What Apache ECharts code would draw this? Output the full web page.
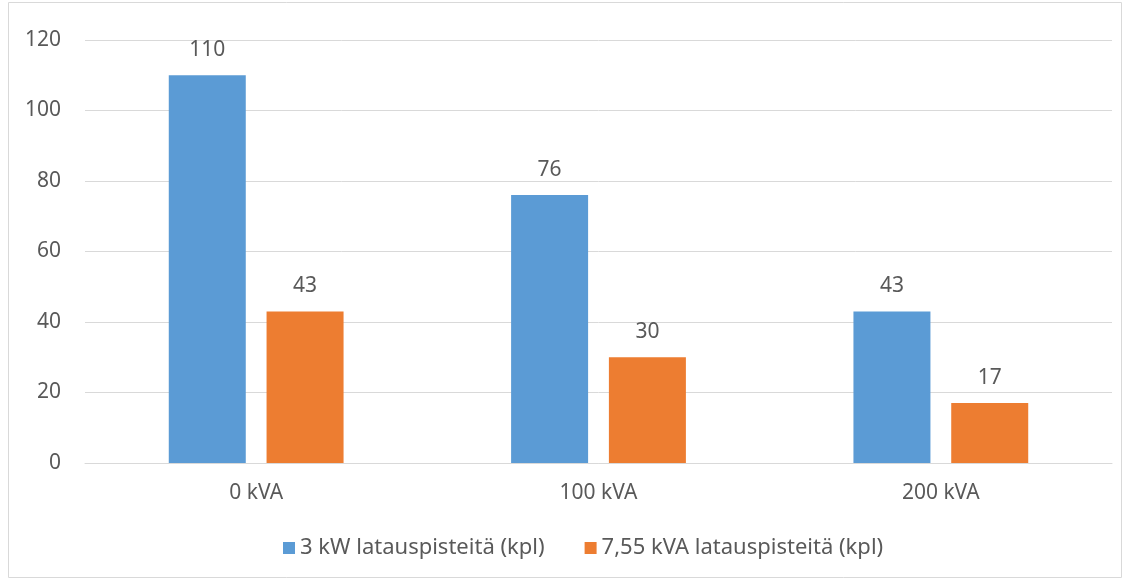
<!DOCTYPE html>
<html>
<head>
<meta charset="utf-8">
<script src="https://cdn.jsdelivr.net/npm/echarts@6/dist/echarts.min.js"></script>
<style>
  html, body { margin: 0; padding: 0; background: #fff; }
  #chart { width: 1131px; height: 581px; }
</style>
</head>
<body>
<div id="chart"></div>
<script>
// data
const categories = ['0 kVA', '100 kVA', '200 kVA']
const seriesNames = ['3 kW latauspisteitä (kpl)', '7,55 kVA latauspisteitä (kpl)']
const values3kW = [110, 76, 43]
const values755kVA = [43, 30, 17]

const chart = echarts.init(document.getElementById('chart'))
const font = 'Noto Sans'
const textColor = '#595959'
const fs = 21

chart.setOption({
  animation: false,
  textStyle: { fontFamily: font },
  graphic: [{
    type: 'rect',
    silent: true,
    shape: { x: 8.5, y: 2.5, width: 1113, height: 575 },
    style: { fill: 'none', stroke: '#d9d9d9', lineWidth: 1 }
  }],
  grid: { left: 85, right: 19, top: 40, bottom: 118 },
  legend: {
    bottom: 17,
    left: 278,
    itemWidth: 12,
    itemHeight: 12,
    itemGap: 40,
    icon: 'rect',
    textStyle: { color: textColor, fontSize: 22, fontFamily: font }
  },
  xAxis: {
    type: 'category',
    data: categories,
    axisLine: { lineStyle: { color: '#d9d9d9', width: 1 } },
    axisTick: { show: false },
    axisLabel: { color: textColor, fontSize: fs, margin: 20 }
  },
  yAxis: {
    type: 'value',
    min: 0,
    max: 120,
    interval: 20,
    axisLine: { show: false },
    axisTick: { show: false },
    splitLine: { lineStyle: { color: '#d9d9d9', width: 1 } },
    axisLabel: { color: textColor, fontSize: fs, margin: 24 }
  },
  series: [
    {
      name: seriesNames[0],
      type: 'bar',
      data: values3kW,
      barWidth: 77,
      barGap: '27%',
      itemStyle: { color: '#5b9bd5' },
      label: { show: true, position: 'top', distance: 15, color: textColor, fontSize: fs }
    },
    {
      name: seriesNames[1],
      type: 'bar',
      data: values755kVA,
      barWidth: 77,
      itemStyle: { color: '#ed7d31' },
      label: { show: true, position: 'top', distance: 15, color: textColor, fontSize: fs }
    }
  ]
})
</script>
</body>
</html>
